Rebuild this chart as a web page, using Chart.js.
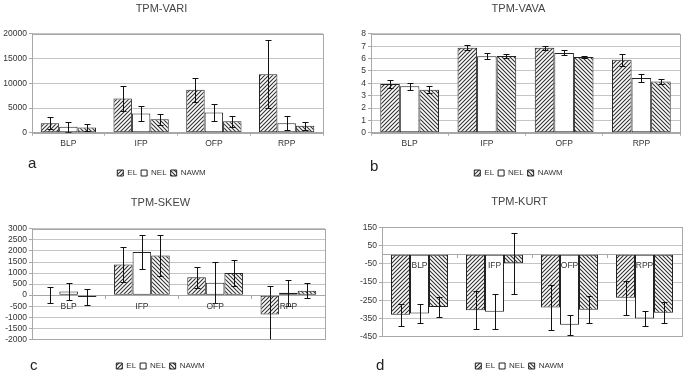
<!DOCTYPE html>
<html lang="en">
<head>
<meta charset="UTF-8" />
<title>TPM</title>
<script src="https://cdn.jsdelivr.net/npm/chart.js@4.4.1/dist/chart.umd.min.js"></script>
<style>
  html, body { margin: 0; padding: 0; background: #fff; overflow: hidden; width: 686px; height: 373px; }
  body { position: relative; font-family: "Liberation Sans", Arial, sans-serif; }
  canvas { position: absolute; }
  .tag { position: absolute; font-size: 15px; line-height: 15px; color: #222; }
</style>
</head>
<body>
<canvas id="chartA" width="324" height="188" style="left:0px;top:0px"></canvas>
<canvas id="chartB" width="326" height="188" style="left:357px;top:0px"></canvas>
<canvas id="chartC" width="330" height="195" style="left:-4px;top:186px"></canvas>
<canvas id="chartD" width="326" height="195" style="left:357px;top:186px"></canvas>
<div class="tag" style="left:28px;top:155px">a</div>
<div class="tag" style="left:370px;top:158px">b</div>
<div class="tag" style="left:30px;top:357px">c</div>
<div class="tag" style="left:376px;top:357px">d</div>
<script>
  const categories = ["BLP", "IFP", "OFP", "RPP"];
  const seriesNames = ["EL", "NEL", "NAWM"];

  // TPM-VARI
  const variEL = [1900, 6900, 8700, 11850];
  const variNEL = [1200, 3900, 4100, 1900];
  const variNAWM = [1050, 2700, 2300, 1400];
  const variELErr = [1200, 2600, 2400, 6950];
  const variNELErr = [1000, 1600, 1750, 1400];
  const variNAWMErr = [700, 1100, 1150, 800];
  const variTicks = [0, 5000, 10000, 15000, 20000];

  // TPM-VAVA
  const vavaEL = [3.95, 6.88, 6.87, 5.9];
  const vavaNEL = [3.76, 6.2, 6.46, 4.42];
  const vavaNAWM = [3.48, 6.22, 6.13, 4.15];
  const vavaELErr = [0.33, 0.22, 0.18, 0.5];
  const vavaNELErr = [0.27, 0.27, 0.2, 0.31];
  const vavaNAWMErr = [0.3, 0.17, 0.08, 0.23];
  const vavaTicks = [0, 1, 2, 3, 4, 5, 6, 7, 8];

  // TPM-SKEW
  const skewEL = [20, 1390, 810, -880];
  const skewNEL = [160, 1950, 560, 110];
  const skewNAWM = [-80, 1790, 1000, 200];
  const skewELErr = [360, 790, 480, 1300];
  const skewNELErr = [380, 760, 930, 580];
  const skewNAWMErr = [350, 930, 580, 330];
  const skewTicks = [-2000, -1500, -1000, -500, 0, 500, 1000, 1500, 2000, 2500, 3000];

  // TPM-KURT
  const kurtEL = [-330, -305, -290, -237];
  const kurtNEL = [-323, -313, -385, -350];
  const kurtNAWM = [-287, -47, -302, -318];
  const kurtELErr = [60, 105, 125, 95];
  const kurtNELErr = [50, 95, 56, 43];
  const kurtNAWMErr = [55, 168, 75, 58];
  const kurtTicks = [-450, -350, -250, -150, -50, 50, 150];

  const FONT = "'Liberation Sans', Arial, sans-serif";
  const GRID = "#c4c4c4";
  const AXIS = "#a8a8a8";
  const TEXT = "#333";

  // diagonal hatch fill, dir 1 = "/", dir -1 = "\"
  function hatch(dir) {
    const s = 4;
    const c = document.createElement("canvas");
    c.width = s;
    c.height = s;
    const g = c.getContext("2d");
    g.fillStyle = "#fff";
    g.fillRect(0, 0, s, s);
    g.strokeStyle = "#333";
    g.lineWidth = 1.1;
    g.beginPath();
    if (dir > 0) {
      g.moveTo(-1, s + 1); g.lineTo(s + 1, -1);
      g.moveTo(-1, 1); g.lineTo(1, -1);
      g.moveTo(s - 1, s + 1); g.lineTo(s + 1, s - 1);
    } else {
      g.moveTo(-1, -1); g.lineTo(s + 1, s + 1);
      g.moveTo(-1, s - 1); g.lineTo(1, s + 1);
      g.moveTo(s - 1, -1); g.lineTo(s + 1, 1);
    }
    g.stroke();
    return g.createPattern(c, "repeat");
  }

  const fills = [hatch(1), "#fff", hatch(-1)];

  const errorBars = {
    id: "errorBars",
    afterDatasetsDraw(chart, args, opts) {
      const ctx = chart.ctx;
      const y = chart.scales.y;
      const area = chart.chartArea;
      ctx.save();
      ctx.beginPath();
      ctx.rect(area.left, area.top, area.right - area.left, area.bottom - area.top);
      ctx.clip();
      ctx.strokeStyle = "#111";
      ctx.lineWidth = 1;
      chart.data.datasets.forEach((ds, i) => {
        const meta = chart.getDatasetMeta(i);
        meta.data.forEach((bar, j) => {
          const v = ds.data[j];
          const e = opts.errors[i][j];
          const x = Math.round(bar.x) + 0.5;
          const y1 = Math.round(y.getPixelForValue(v + e)) + 0.5;
          const y2 = Math.round(y.getPixelForValue(v - e)) + 0.5;
          ctx.beginPath();
          ctx.moveTo(x, y1); ctx.lineTo(x, y2);
          ctx.moveTo(x - 3, y1); ctx.lineTo(x + 3, y1);
          ctx.moveTo(x - 3, y2); ctx.lineTo(x + 3, y2);
          ctx.stroke();
        });
      });
      ctx.restore();
    }
  };

  const plotFrame = {
    id: "plotFrame",
    beforeDatasetsDraw(chart) {
      const a = chart.chartArea;
      const ctx = chart.ctx;
      ctx.save();
      ctx.strokeStyle = AXIS;
      ctx.lineWidth = 1;
      ctx.strokeRect(Math.round(a.left) + 0.5, Math.round(a.top) + 0.5,
        Math.round(a.right - a.left), Math.round(a.bottom - a.top));
      ctx.restore();
    }
  };

  function makeChart(id, p) {
    const scales = {
      x: {
        type: "category",
        position: p.zeroAxis ? { y: 0 } : "bottom",
        grid: { display: true, drawOnChartArea: false, offset: true, tickLength: 3, color: AXIS },
        border: { display: true, color: AXIS },
        ticks: { z: 1, color: TEXT, font: { family: FONT, size: 8.5 }, padding: 3, maxRotation: 0 },
        afterFit: (s) => { if (!p.zeroAxis) s.height = p.bottomGap; }
      },
      y: {
        min: p.ticks[0],
        max: p.ticks[p.ticks.length - 1],
        afterBuildTicks: (s) => { s.ticks = p.ticks.map((v) => ({ value: v })); },
        afterFit: (s) => { s.width = p.yWidth; },
        grid: { color: GRID, tickLength: 3, tickColor: AXIS },
        border: { display: true, color: AXIS },
        ticks: {
          autoSkip: false,
          color: TEXT,
          font: { family: FONT, size: 8.5 },
          padding: 2,
          callback: (v) => String(v)
        }
      }
    };
    if (p.zeroAxis) {
      scales.gap = {
        type: "category",
        axis: "x",
        position: "bottom",
        grid: { display: false },
        border: { display: false },
        ticks: { display: false },
        afterFit: (s) => { s.height = p.bottomGap; }
      };
    }
    return new Chart(document.getElementById(id), {
      type: "bar",
      data: {
        labels: categories,
        datasets: p.series.map((d, i) => ({
          label: seriesNames[i],
          data: d,
          backgroundColor: fills[i],
          borderColor: "#222",
          borderWidth: 1,
          borderSkipped: false,
          categoryPercentage: 0.76,
          barPercentage: 1
        }))
      },
      options: {
        responsive: false,
        animation: false,
        events: [],
        layout: { padding: { left: 0, right: p.padRight, top: 0, bottom: 1 } },
        scales: scales,
        plugins: {
          title: {
            display: true,
            text: p.title,
            color: "#444",
            font: { family: FONT, size: 11, weight: 400 },
            padding: { top: p.titleTop, bottom: p.titleBottom }
          },
          legend: {
            display: true,
            position: "bottom",
            labels: {
              color: TEXT,
              font: { family: FONT, size: 8 },
              boxWidth: 6,
              boxHeight: 6,
              padding: 4
            }
          },
          tooltip: { enabled: false },
          errorBars: { errors: p.errors }
        }
      },
      plugins: [plotFrame, errorBars]
    });
  }

  makeChart("chartA", {
    title: "TPM-VARI",
    series: [variEL, variNEL, variNAWM],
    errors: [variELErr, variNELErr, variNAWMErr],
    ticks: variTicks,
    yWidth: 32, padRight: 1, titleTop: 2, titleBottom: 18.7, bottomGap: 32.3
  });

  makeChart("chartB", {
    title: "TPM-VAVA",
    series: [vavaEL, vavaNEL, vavaNAWM],
    errors: [vavaELErr, vavaNELErr, vavaNAWMErr],
    ticks: vavaTicks,
    yWidth: 14, padRight: 3, titleTop: 2, titleBottom: 18.7, bottomGap: 32.3
  });

  makeChart("chartC", {
    title: "TPM-SKEW",
    series: [skewEL, skewNEL, skewNAWM],
    errors: [skewELErr, skewNELErr, skewNAWMErr],
    ticks: skewTicks,
    zeroAxis: true,
    yWidth: 36, padRight: 1, titleTop: 10, titleBottom: 19.7, bottomGap: 18.7
  });

  makeChart("chartD", {
    title: "TPM-KURT",
    series: [kurtEL, kurtNEL, kurtNAWM],
    errors: [kurtELErr, kurtNELErr, kurtNAWMErr],
    ticks: kurtTicks,
    zeroAxis: true,
    yWidth: 25, padRight: 1, titleTop: 9, titleBottom: 19.1, bottomGap: 21.3
  });
</script>
</body>
</html>
